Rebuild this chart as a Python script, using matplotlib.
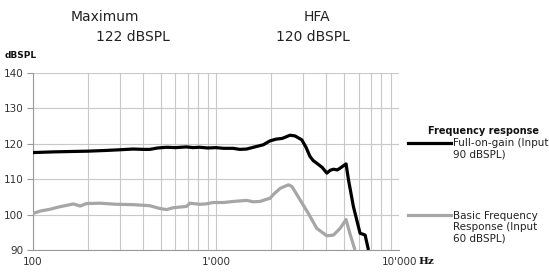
import matplotlib
matplotlib.use("Agg")
import matplotlib.pyplot as plt

# Frequenzgang-Daten
freq_full = [100, 130, 160, 200, 250, 300, 352, 400, 434, 480, 537, 600, 689, 750, 815, 900,
             1000, 1100, 1241, 1350, 1470, 1600, 1810, 1970, 2130, 2300, 2537, 2700, 2940, 3100,
             3260, 3400, 3550, 3800, 4030, 4200, 4380, 4600, 4760, 5130, 5290, 5630, 6120, 6300,
             6520, 6800]
level_full = [117.5, 117.7, 117.8, 117.9, 118.1, 118.3, 118.5, 118.4, 118.4, 118.8, 119.0, 118.9,
              119.1, 118.9, 119.0, 118.8, 118.9, 118.7, 118.7, 118.4, 118.5, 119.0, 119.7, 120.8,
              121.3, 121.5, 122.4, 122.2, 121.1, 119.0, 116.4, 115.2, 114.5, 113.3, 111.7, 112.5,
              112.8, 112.6, 113.1, 114.3, 109.8, 102.2, 94.7, 94.5, 94.2, 90.0]

freq_basic = [100, 110, 124, 140, 153, 166, 181, 196, 232, 286, 352, 434, 494, 537, 580, 689,
              720, 815, 880, 965, 1100, 1241, 1470, 1600, 1737, 1885, 1973, 2050, 2240, 2485,
              2600, 2880, 3195, 3550, 4030, 4380, 4760, 5130, 5380, 5740]
level_basic = [100.3, 101.0, 101.5, 102.2, 102.6, 103.0, 102.4, 103.1, 103.2, 102.9, 102.8, 102.5,
               101.7, 101.4, 101.9, 102.3, 103.2, 102.9, 103.0, 103.4, 103.4, 103.7, 104.0, 103.6,
               103.7, 104.3, 104.6, 105.6, 107.4, 108.4, 107.9, 104.1, 100.3, 96.1, 94.0, 94.2,
               96.1, 98.6, 94.7, 90.0]

x_ticks = [100, 1000, 10000]
x_labels = ["100", "1'000", "10'000"]
y_ticks = [90, 100, 110, 120, 130, 140]

fig = plt.figure(figsize=(5.49, 2.72), dpi=100)
ax = fig.add_axes([0.060, 0.081, 0.667, 0.651])

ax.plot(freq_full, level_full, color='black', lw=2.3, solid_capstyle='butt', zorder=3)
ax.plot(freq_basic, level_basic, color='#a6a6a6', lw=2.3, solid_capstyle='butt', zorder=3)

ax.set_xscale('log')
ax.set_xlim(100, 10000)
ax.set_ylim(90, 140)
ax.set_xticks(x_ticks)
ax.set_xticklabels(x_labels)
ax.set_yticks(y_ticks)
ax.grid(True, which='both', axis='x', color='#c8c8c8', lw=0.8)
ax.grid(True, which='major', axis='y', color='#c8c8c8', lw=0.8)
ax.minorticks_on()
ax.yaxis.set_minor_locator(matplotlib.ticker.NullLocator())
ax.tick_params(axis='x', which='both', length=0, labelsize=7.5, colors='#333333', pad=5)
ax.tick_params(axis='y', length=4, color='#999999', labelsize=7.5, labelcolor='#333333', pad=3)
for s in ['top', 'right']:
    ax.spines[s].set_visible(False)
for s in ['left', 'bottom']:
    ax.spines[s].set_color('#999999')
    ax.spines[s].set_linewidth(0.8)

# Beschriftungen
fig.text(105 / 549, 1 - 17 / 272, 'Maximum', ha='center', va='center', fontsize=10, color='#222222')
fig.text(133 / 549, 1 - 37 / 272, '122 dBSPL', ha='center', va='center', fontsize=10, color='#222222')
fig.text(317 / 549, 1 - 17 / 272, 'HFA', ha='center', va='center', fontsize=10, color='#222222')
fig.text(313 / 549, 1 - 37 / 272, '120 dBSPL', ha='center', va='center', fontsize=10, color='#222222')
fig.text(5 / 549, 1 - 55 / 272, 'dBSPL', ha='left', va='center', fontsize=6.5, fontweight='bold',
         color='#111111')
fig.text(418 / 549, 1 - 262 / 272, 'Hz', ha='left', va='center', fontsize=7.5, fontweight='bold',
         family='DejaVu Serif', color='#111111')

# Legende
fig.text(484 / 549, 1 - 131 / 272, 'Frequency response', ha='center', va='center', fontsize=7,
         fontweight='bold', family='Liberation Sans Narrow', color='#111111')
fig.add_artist(plt.Line2D([408 / 549, 451 / 549], [1 - 143 / 272] * 2, color='black', lw=2.3))
fig.text(453 / 549, 1 - 149 / 272, 'Full-on-gain (Input\n90 dBSPL)', ha='left', va='center',
         fontsize=7.5, color='#222222', linespacing=1.15)
fig.add_artist(plt.Line2D([408 / 549, 451 / 549], [1 - 215 / 272] * 2, color='#a6a6a6', lw=2.3))
fig.text(453 / 549, 1 - 227 / 272, 'Basic Frequency\nResponse (Input\n60 dBSPL)', ha='left',
         va='center', fontsize=7.5, color='#222222', linespacing=1.15)

fig.savefig('out.png', dpi=100)
